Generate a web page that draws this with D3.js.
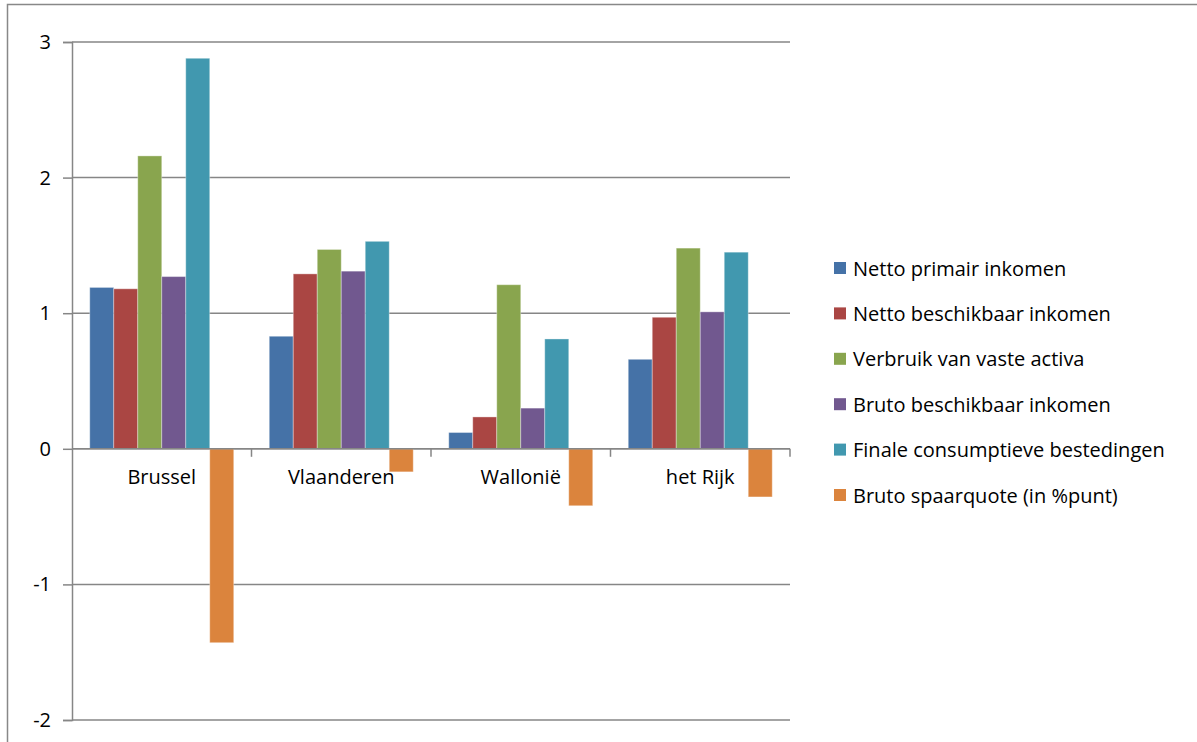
<!DOCTYPE html>
<html>
<head>
<meta charset="utf-8">
<script src="https://cdn.jsdelivr.net/npm/d3@7"></script>
<style>
  body { margin: 0; background: #fff; }
  text { font-family: "Open Sans", sans-serif; fill: #000; }
</style>
</head>
<body>
<div id="chart"></div>
<script>
// regions on the x axis
let regions = ["Brussel", "Vlaanderen", "Wallonië", "het Rijk"];

// one array per series, in region order
let seriesNames = [
  "Netto primair inkomen",
  "Netto beschikbaar inkomen",
  "Verbruik van vaste activa",
  "Bruto beschikbaar inkomen",
  "Finale consumptieve bestedingen",
  "Bruto spaarquote (in %punt)"
];
let nettoPrimair = [1.19, 0.83, 0.12, 0.66];
let nettoBeschikbaar = [1.18, 1.29, 0.235, 0.97];
let verbruikActiva = [2.16, 1.47, 1.21, 1.48];
let brutoBeschikbaar = [1.27, 1.31, 0.30, 1.01];
let finaleConsumptie = [2.88, 1.53, 0.81, 1.45];
let spaarquote = [-1.43, -0.17, -0.42, -0.355];

let yTicks = [-2, -1, 0, 1, 2, 3];

let colors = ["#4572A7", "#AA4643", "#89A54E", "#71588F", "#4198AF", "#DB843D"];

let allSeries = [nettoPrimair, nettoBeschikbaar, verbruikActiva, brutoBeschikbaar, finaleConsumptie, spaarquote];

let fullWidth = 1197, fullHeight = 742;
let margin = {top: 42, right: 407, bottom: 22, left: 72};
let width = fullWidth - margin.left - margin.right;
let height = fullHeight - margin.top - margin.bottom;

let svg = d3.select("#chart").append("svg")
  .attr("width", fullWidth)
  .attr("height", fullHeight);

// chart border (cut at the top like the original)
svg.append("rect")
  .attr("x", 7.5).attr("y", 4.5)
  .attr("width", fullWidth).attr("height", fullHeight)
  .attr("fill", "none").attr("stroke", "#888").attr("stroke-width", 1.5);

let g = svg.append("g")
  .attr("transform", "translate(" + margin.left + "," + margin.top + ")");

let x0 = d3.scaleBand().domain(regions).range([0, width]).paddingInner(0).paddingOuter(0);
let x1 = d3.scaleBand().domain(d3.range(seriesNames.length))
  .range([0, x0.bandwidth()]).paddingOuter(0.74).paddingInner(0);
let y = d3.scaleLinear().domain([-2, 3]).range([height, 0]);

// gridlines
g.selectAll(".grid").data(yTicks).enter().append("line")
  .attr("x1", 0).attr("x2", width)
  .attr("y1", d => y(d)).attr("y2", d => y(d))
  .attr("stroke", "#868686").attr("stroke-width", 1.5);

// y axis
let yAxis = g.append("g").call(d3.axisLeft(y).tickValues(yTicks).tickSize(9).tickFormat(d => String(d)));
yAxis.select(".domain").attr("stroke", "#868686").attr("stroke-width", 1.5);
yAxis.selectAll(".tick line").attr("stroke", "#868686").attr("stroke-width", 1.5);
yAxis.selectAll(".tick text")
  .attr("x", -21)
  .style("font-size", "20px")
  .style("font-family", "Open Sans, sans-serif");

// bars
let groups = g.selectAll(".region").data(regions).enter().append("g")
  .attr("transform", d => "translate(" + x0(d) + ",0)");

groups.selectAll("rect")
  .data((d, i) => allSeries.map((s, k) => ({k: k, v: s[i]})))
  .enter().append("rect")
  .attr("x", d => x1(d.k))
  .attr("width", x1.bandwidth())
  .attr("y", d => y(Math.max(0, d.v)))
  .attr("height", d => Math.abs(y(d.v) - y(0)))
  .attr("fill", d => colors[d.k])
  .attr("stroke", "rgba(255,255,255,0.35)")
  .attr("stroke-width", 1);

// zero axis with category ticks
g.append("line")
  .attr("x1", 0).attr("x2", width)
  .attr("y1", y(0)).attr("y2", y(0))
  .attr("stroke", "#868686").attr("stroke-width", 1.5);
g.selectAll(".xtick").data(regions).enter().append("line")
  .attr("x1", d => x0(d) + x0.bandwidth()).attr("x2", d => x0(d) + x0.bandwidth())
  .attr("y1", y(0)).attr("y2", y(0) + 8)
  .attr("stroke", "#868686").attr("stroke-width", 1.5);

g.selectAll(".xlabel").data(regions).enter().append("text")
  .attr("x", d => x0(d) + x0.bandwidth() / 2)
  .attr("y", y(0) + 35)
  .attr("text-anchor", "middle")
  .style("font-size", "20px")
  .text(d => d);

// legend
let legendX = 834, legendY = 268, legendStep = 45.4;
let legend = svg.selectAll(".legend").data(seriesNames).enter().append("g")
  .attr("transform", (d, i) => "translate(" + legendX + "," + (legendY + i * legendStep) + ")");
legend.append("rect")
  .attr("x", 0).attr("y", -6)
  .attr("width", 12).attr("height", 12)
  .attr("fill", (d, i) => colors[i]);
legend.append("text")
  .attr("x", 19).attr("y", 0)
  .attr("dominant-baseline", "central")
  .style("font-size", "20px")
  .text(d => d);
</script>
</body>
</html>
